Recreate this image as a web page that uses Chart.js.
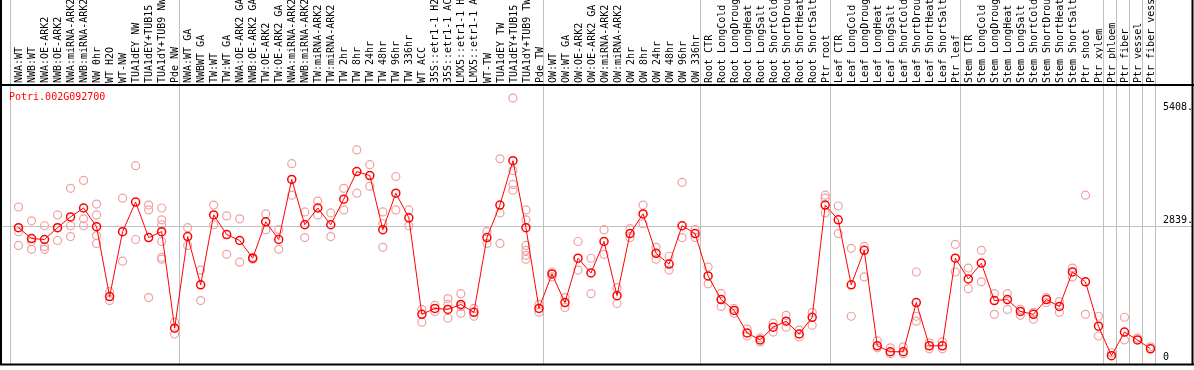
<!DOCTYPE html>
<html>
<head>
<meta charset="utf-8">
<script src="https://cdn.jsdelivr.net/npm/chart.js@4"></script>
<style>
html, body { margin: 0; padding: 0; background: #fff; }
</style>
</head>
<body>
<canvas id="exprChart" width="1194" height="370"></canvas>
<script>
const geneName = 'Potri.002G092700';

const samples = [
    'NWA:WT', 'NWB:WT', 'NWA:OE-ARK2', 'NWB:OE-ARK2', 'NWA:miRNA-ARK2', 'NWB:miRNA-ARK2', 'NW 0hr', 'WT H2O',
    'WT-NW', 'TUA1dEY NW', 'TUA1dEY+TUB15 NW', 'TUA1dY+TUB9 NW', 'Pde NW',
    'NWA:WT GA', 'NWBWT GA', 'TW:WT', 'TW:WT GA', 'NWA:OE-ARK2 GA', 'NWB:OE-ARK2 GA', 'TW:OE-ARK2', 'TW:OE-ARK2 GA',
    'NWA:miRNA-ARK2 GA', 'NWB:miRNA-ARK2 GA', 'TW:miRNA-ARK2', 'TW:miRNA-ARK2 GA', 'TW 2hr', 'TW 8hr', 'TW 24hr',
    'TW 48hr', 'TW 96hr', 'TW 336hr', 'WT ACC', '35S::etr1-1 H2O', '35S::etr1-1 ACC', 'LMX5::etr1-1 H2O',
    'LMX5::etr1-1 ACC', 'WT-TW', 'TUA1dEY TW', 'TUA1dEY+TUB15 TW', 'TUA1dY+TUB9 TW', 'Pde TW',
    'OW:WT', 'OW:WT GA', 'OW:OE-ARK2', 'OW:OE-ARK2 GA', 'OW:miRNA-ARK2', 'OW:miRNA-ARK2 GA', 'OW 2hr', 'OW 8hr',
    'OW 24hr', 'OW 48hr', 'OW 96hr', 'OW 336hr',
    'Root CTR', 'Root LongCold', 'Root LongDrought', 'Root LongHeat', 'Root LongSalt', 'Root ShortCold',
    'Root ShortDrought', 'Root ShortHeat', 'Root ShortSalt', 'Ptr root',
    'Leaf CTR', 'Leaf LongCold', 'Leaf LongDrought', 'Leaf LongHeat', 'Leaf LongSalt', 'Leaf ShortCold',
    'Leaf ShortDrought', 'Leaf ShortHeat', 'Leaf ShortSalt', 'Ptr leaf',
    'Stem CTR', 'Stem LongCold', 'Stem LongDrought', 'Stem LongHeat', 'Stem LongSalt', 'Stem ShortCold',
    'Stem ShortDrought', 'Stem ShortHeat', 'Stem ShortSalt', 'Ptr shoot', 'Ptr xylem',
    'Ptr phloem', 'Ptr fiber', 'Ptr vessel', 'Ptr fiber vessel'
];

// mean expression per sample (red line)
const means = [
    2806, 2588, 2569, 2806, 3023, 3201, 2826, 1423, 2727, 3320,
    2608, 2727, 790, 2628, 1660, 3063, 2668, 2549, 2193, 2924,
    2569, 3774, 2865, 3201, 2865, 3379, 3932, 3853, 2766, 3498,
    3004, 1067, 1186, 1166, 1265, 1107, 2608, 3260, 4150, 2806,
    1186, 1877, 1304, 2193, 1897, 2529, 1442, 2687, 3083, 2292,
    2075, 2845, 2687, 1838, 1363, 1146, 692, 553, 810, 929,
    672, 1008, 3260, 2964, 1660, 2351, 435, 316, 316, 1304,
    435, 435, 2193, 1778, 2095, 1344, 1363, 1126, 1067, 1363,
    1225, 1917, 1719, 830, 237, 711, 553, 375
];

// individual replicates per sample (pink circles)
const replicates = [
    [3221, 2727, 2450], [2944, 2529, 2371], [2845, 2430, 2371], [3063, 2806, 2549],
    [3596, 2845, 2628], [3754, 2984, 2845], [3280, 3063, 2648, 2490], [1522, 1344],
    [3399, 2134], [4051, 2569], [3260, 3162, 1403], [3201, 2964, 2865, 2529, 2213, 2174],
    [909, 672],
    [2806, 2450], [1956, 1344], [3260, 2865], [3043, 2272], [2984, 2114], [2213, 2174],
    [3083, 2766], [2766, 2371], [4090, 3458], [3122, 2608], [3340, 3063], [3102, 2628],
    [3596, 3162], [4367, 3498], [4071, 3636], [3122, 2885, 2411], [3833, 3162], [3162, 2845],
    [1166, 909], [1245, 1126], [1383, 1265, 988], [1482, 1225, 1087], [1186, 1028],
    [2727, 2490], [4189, 3102, 2490], [5408, 3952, 3675, 3557], [3162, 2964, 2450, 2351, 2252, 2174],
    [1265, 1107],
    [1917, 1818], [1403, 1205], [2529, 1956], [2193, 1482], [2766, 2272], [1601, 1284],
    [2786, 2608], [3260, 2885], [2411, 2174], [2233, 1956], [3715, 2608], [2766, 2608],
    [2016, 1680], [1482, 1225], [1186, 1087], [771, 632], [593, 514], [889, 711],
    [1047, 810], [751, 613], [1107, 850], [3458, 3399, 3102],
    [3241, 2687], [2391, 1028], [2430, 1818], [534, 395], [395, 277], [415, 277],
    [1917, 1028, 929], [494, 375], [514, 375], [2470, 1917],
    [1996, 1581], [2351, 1719], [1482, 1067], [1482, 1166], [1166, 1047], [1107, 968],
    [1403, 1304], [1324, 1107], [1996, 1818], [3458, 1067], [1028, 632],
    [296], [1008, 553], [593], [415]
];

const yTicks = [0, 2839, 5408];
// sample index where each block of experiments begins (plus the end)
const groupStarts = [0, 13, 41, 53, 63, 73, 84, 85, 86, 87, 88];

const monoFont = "'DejaVu Sans Mono', monospace";

const repPoints = [];
replicates.forEach((vals, i) => {
    vals.forEach(v => repPoints.push({ x: samples[i], y: v }));
});

// separators, 2839 line, frame, title and right-hand labels
const decorPlugin = {
    id: 'decor',
    beforeDatasetsDraw(chart) {
        const c = chart.ctx;
        const xs = chart.scales.x;
        const ys = chart.scales.y;
        const area = chart.chartArea;
        const w = (area.right - area.left) / samples.length;
        c.save();
        c.strokeStyle = '#c0c0c0';
        c.lineWidth = 1;
        groupStarts.forEach(g => {
            let x = g < samples.length ? xs.getPixelForValue(g) - w / 2 : xs.getPixelForValue(g - 1) + w / 2;
            x = Math.round(x) - 1.5;
            c.beginPath();
            c.moveTo(x, 0);
            c.lineTo(x, area.bottom);
            c.stroke();
        });
        const yMid = Math.round(ys.getPixelForValue(yTicks[1])) + 0.5;
        c.beginPath();
        c.moveTo(0, yMid);
        c.lineTo(chart.width - 2, yMid);
        c.stroke();
        c.restore();
    },
    afterDraw(chart) {
        const c = chart.ctx;
        const ys = chart.scales.y;
        const area = chart.chartArea;
        c.save();
        c.strokeStyle = '#000';
        c.lineWidth = 2;
        c.beginPath();
        c.moveTo(1, 0); c.lineTo(1, area.bottom + 1);
        c.moveTo(0, area.bottom); c.lineTo(chart.width, area.bottom);
        c.moveTo(chart.width - 1.5, 0); c.lineTo(chart.width - 1.5, area.bottom + 1);
        c.moveTo(0, area.top); c.lineTo(chart.width, area.top);
        c.stroke();

        c.font = '10px ' + monoFont;
        c.fillStyle = '#ff0000';
        c.textAlign = 'left';
        c.textBaseline = 'middle';
        c.fillText(geneName, 9, area.top + 12);

        c.fillStyle = '#000';
        yTicks.forEach((v, i) => {
            const label = v === 0 ? '0' : v + '.';
            let y = ys.getPixelForValue(v);
            if (i === 0) {
                c.textBaseline = 'bottom';
                y = Math.min(y, area.bottom - 2);
            } else if (i === yTicks.length - 1) {
                c.textBaseline = 'top';
                y = y + 4;
            } else {
                c.textBaseline = 'bottom';
                y = y - 1;
            }
            c.fillText(label, ys.left + 6, y);
        });
        c.restore();
    }
};

const ctx = document.getElementById('exprChart').getContext('2d');

const exprChart = new Chart(ctx, {
    type: 'line',
    data: {
        labels: samples,
        datasets: [
            {
                label: 'mean',
                data: means,
                borderColor: '#ff0000',
                borderWidth: 1,
                pointRadius: 4,
                pointBorderWidth: 1.5,
                pointBorderColor: '#ff0000',
                pointBackgroundColor: 'transparent',
                tension: 0,
                order: 0
            },
            {
                label: 'replicates',
                data: repPoints,
                showLine: false,
                pointRadius: 4,
                pointBorderWidth: 1.2,
                pointBorderColor: '#f0a0a0',
                pointBackgroundColor: 'transparent',
                order: 1
            }
        ]
    },
    options: {
        responsive: false,
        maintainAspectRatio: false,
        animation: false,
        layout: {
            padding: { left: 12, top: 0, right: 0, bottom: 1 }
        },
        scales: {
            x: {
                type: 'category',
                position: 'top',
                offset: true,
                grid: { display: false, drawTicks: false },
                border: { display: false },
                ticks: {
                    autoSkip: false,
                    minRotation: 90,
                    maxRotation: 90,
                    padding: 2,
                    labelOffset: 13,
                    color: '#000',
                    font: { family: monoFont, size: 10 }
                },
                afterFit(scale) {
                    scale.height = 85;
                }
            },
            y: {
                position: 'right',
                min: 60,
                max: 5670,
                grid: { display: false },
                border: { display: false },
                ticks: { display: false },
                afterBuildTicks(scale) {
                    scale.ticks = yTicks.map(v => ({ value: v }));
                },
                afterFit(scale) {
                    scale.width = 37;
                }
            }
        },
        plugins: {
            legend: { display: false },
            tooltip: { enabled: false }
        }
    },
    plugins: [decorPlugin]
});
</script>
</body>
</html>
